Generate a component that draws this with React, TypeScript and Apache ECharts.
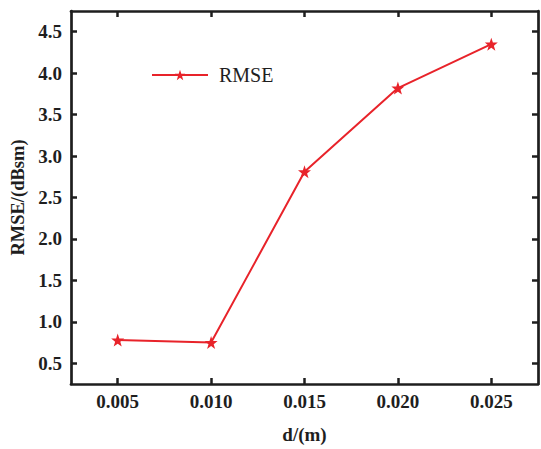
import React, { useEffect, useRef } from "react";
import * as echarts from "echarts";

const categories = ["0.005", "0.010", "0.015", "0.020", "0.025"];
const rmseValues = [0.78, 0.75, 2.81, 3.82, 4.35];
const yTicks = [0.5, 1.0, 1.5, 2.0, 2.5, 3.0, 3.5, 4.0, 4.5];

const STAR =
  "path://M0,-10 L2.35,-3.24 L9.51,-3.09 L3.8,1.24 L5.88,8.09 L0,4 L-5.88,8.09 L-3.8,1.24 L-9.51,-3.09 L-2.35,-3.24 Z";
const FONT = "'Liberation Serif', 'Times New Roman', Times, serif";
const AXIS_COLOR = "#1e1e1e";
const RED = "#e8232a";

export default function App() {
  const ref = useRef<HTMLDivElement>(null);
  useEffect(() => {
    if (!ref.current) return;
    const chart = echarts.init(ref.current, null, { renderer: "svg" });
    const axisLine = { show: true, onZero: false, lineStyle: { color: AXIS_COLOR, width: 2.7 } };
    const tick = { show: true, inside: true, length: 6, lineStyle: { color: AXIS_COLOR, width: 2.5 } };
    chart.setOption({
      animation: false,
      backgroundColor: "#fff",
      grid: { left: 71, right: 3, top: 11, bottom: 61, containLabel: false },
      legend: {
        left: 146,
        top: 60,
        itemWidth: 56,
        itemHeight: 13,
        data: ["RMSE"],
        textStyle: { fontFamily: FONT, fontSize: 20, color: AXIS_COLOR, padding: [0, 0, 0, 6] },
      },
      xAxis: [
        {
          type: "category",
          data: categories,
          boundaryGap: true,
          position: "bottom",
          axisLine,
          axisTick: { ...tick, alignWithLabel: true },
          axisLabel: { fontFamily: FONT, fontWeight: "bold", fontSize: 19, color: AXIS_COLOR, margin: 8 },
          splitLine: { show: false },
          name: "d/(m)",
          nameLocation: "middle",
          nameGap: 41,
          nameTextStyle: { fontFamily: FONT, fontWeight: "bold", fontSize: 19, color: AXIS_COLOR },
        },
        {
          type: "category",
          data: categories,
          boundaryGap: true,
          position: "top",
          axisLine,
          axisTick: { ...tick, alignWithLabel: true },
          axisLabel: { show: false },
          splitLine: { show: false },
        },
      ],
      yAxis: [
        {
          type: "value",
          min: 0.25,
          max: 4.75,
          position: "left",
          axisLine,
          axisTick: { ...tick, customValues: yTicks },
          axisLabel: {
            fontFamily: FONT,
            fontWeight: "bold",
            fontSize: 19,
            color: AXIS_COLOR,
            margin: 9,
            customValues: yTicks,
            formatter: (v: number) => v.toFixed(1),
          },
          splitLine: { show: false },
          name: "RMSE/(dBsm)",
          nameLocation: "middle",
          nameGap: 40,
          nameTextStyle: { fontFamily: FONT, fontWeight: "bold", fontSize: 18.5, color: AXIS_COLOR },
        },
        {
          type: "value",
          min: 0.25,
          max: 4.75,
          position: "right",
          axisLine,
          axisTick: { ...tick, customValues: yTicks },
          axisLabel: { show: false },
          splitLine: { show: false },
        },
      ],
      series: [
        {
          name: "RMSE",
          type: "line",
          xAxisIndex: 0,
          yAxisIndex: 0,
          data: rmseValues,
          symbol: STAR,
          symbolSize: 13,
          showAllSymbol: true,
          lineStyle: { color: RED, width: 2 },
          itemStyle: { color: RED },
        },
      ],
    });
    return () => chart.dispose();
  }, []);
  return <div ref={ref} style={{ width: 541, height: 449, position: "absolute", left: 0, top: 0 }} />;
}
